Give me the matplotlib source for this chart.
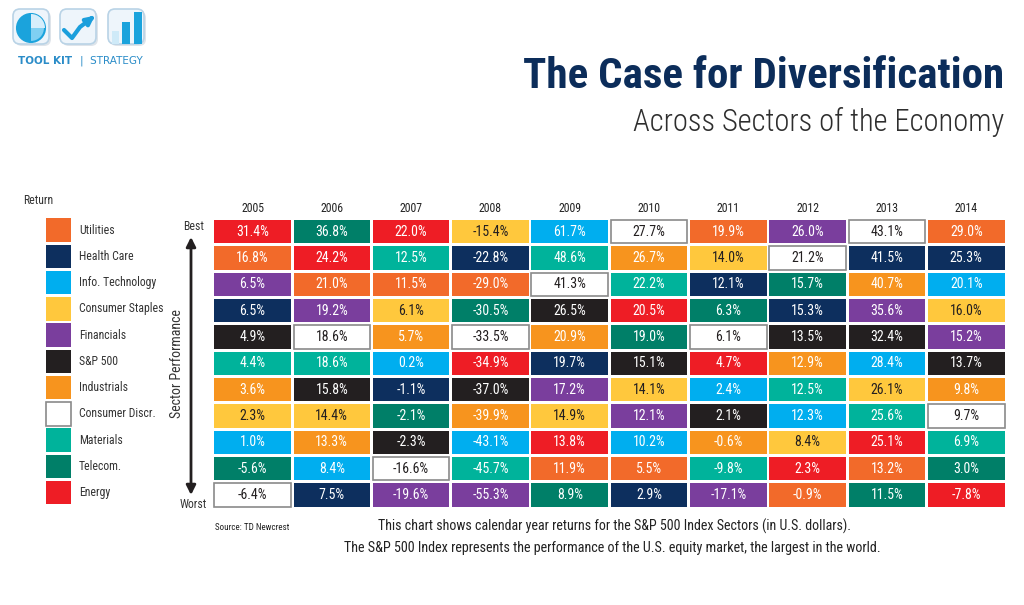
import matplotlib
matplotlib.use('Agg')
import matplotlib.pyplot as plt
from matplotlib.patches import Rectangle, FancyBboxPatch, Wedge, Circle

plt.rcParams['font.family'] = ['Roboto Condensed', 'Archivo Narrow', 'DejaVu Sans']

# sectors, legend order
sector_codes = ['U', 'HC', 'IT', 'CS', 'F', 'SP', 'I', 'CD', 'M', 'T', 'E']
sector_names = ['Utilities', 'Health Care', 'Info. Technology', 'Consumer Staples',
                'Financials', 'S&P 500', 'Industrials', 'Consumer Discr.',
                'Materials', 'Telecom.', 'Energy']
sector_colors = ['#f26a2a', '#0d2f5e', '#00aeef', '#ffc83d', '#7a3e9d', '#231f20',
                 '#f7941e', '#ffffff', '#00b39b', '#007f68', '#ee1d25']

years = [2005, 2006, 2007, 2008, 2009, 2010, 2011, 2012, 2013, 2014]

# ranking best -> worst for each year
rank_2005 = ['E', 'U', 'F', 'HC', 'SP', 'M', 'I', 'CS', 'IT', 'T', 'CD']
rank_2006 = ['T', 'E', 'U', 'F', 'CD', 'M', 'SP', 'CS', 'I', 'IT', 'HC']
rank_2007 = ['E', 'M', 'U', 'CS', 'I', 'IT', 'HC', 'T', 'SP', 'CD', 'F']
rank_2008 = ['CS', 'HC', 'U', 'T', 'CD', 'E', 'SP', 'I', 'IT', 'M', 'F']
rank_2009 = ['IT', 'M', 'CD', 'SP', 'I', 'HC', 'F', 'CS', 'E', 'U', 'T']
rank_2010 = ['CD', 'I', 'M', 'E', 'T', 'SP', 'CS', 'F', 'IT', 'U', 'HC']
rank_2011 = ['U', 'CS', 'HC', 'T', 'CD', 'E', 'IT', 'SP', 'I', 'M', 'F']
rank_2012 = ['F', 'CD', 'T', 'HC', 'SP', 'I', 'M', 'IT', 'CS', 'E', 'U']
rank_2013 = ['CD', 'HC', 'I', 'F', 'SP', 'IT', 'CS', 'M', 'E', 'U', 'T']
rank_2014 = ['U', 'HC', 'IT', 'CS', 'F', 'SP', 'I', 'CD', 'M', 'T', 'E']

ret_2005 = [31.4, 16.8, 6.5, 6.5, 4.9, 4.4, 3.6, 2.3, 1.0, -5.6, -6.4]
ret_2006 = [36.8, 24.2, 21.0, 19.2, 18.6, 18.6, 15.8, 14.4, 13.3, 8.4, 7.5]
ret_2007 = [22.0, 12.5, 11.5, 6.1, 5.7, 0.2, -1.1, -2.1, -2.3, -16.6, -19.6]
ret_2008 = [-15.4, -22.8, -29.0, -30.5, -33.5, -34.9, -37.0, -39.9, -43.1, -45.7, -55.3]
ret_2009 = [61.7, 48.6, 41.3, 26.5, 20.9, 19.7, 17.2, 14.9, 13.8, 11.9, 8.9]
ret_2010 = [27.7, 26.7, 22.2, 20.5, 19.0, 15.1, 14.1, 12.1, 10.2, 5.5, 2.9]
ret_2011 = [19.9, 14.0, 12.1, 6.3, 6.1, 4.7, 2.4, 2.1, -0.6, -9.8, -17.1]
ret_2012 = [26.0, 21.2, 15.7, 15.3, 13.5, 12.9, 12.5, 12.3, 8.4, 2.3, -0.9]
ret_2013 = [43.1, 41.5, 40.7, 35.6, 32.4, 28.4, 26.1, 25.6, 25.1, 13.2, 11.5]
ret_2014 = [29.0, 25.3, 20.1, 16.0, 15.2, 13.7, 9.8, 9.7, 6.9, 3.0, -7.8]

ranks = [rank_2005, rank_2006, rank_2007, rank_2008, rank_2009,
         rank_2010, rank_2011, rank_2012, rank_2013, rank_2014]
returns = [ret_2005, ret_2006, ret_2007, ret_2008, ret_2009,
           ret_2010, ret_2011, ret_2012, ret_2013, ret_2014]

color_of = dict(zip(sector_codes, sector_colors))
dark_text = {'CS', 'CD'}

W, H = 1024, 605
fig = plt.figure(figsize=(W / 100, H / 100), dpi=100)

# background axes in pixel coords for decorations
bg = fig.add_axes([0, 0, 1, 1])
bg.set_xlim(0, W)
bg.set_ylim(H, 0)
bg.axis('off')

# ---- logo ----
icon_x = [13, 60, 108]
for x0 in icon_x:
    bg.add_patch(FancyBboxPatch((x0 + 2, 11), 36, 35, boxstyle='round,pad=0,rounding_size=7',
                                fc='#c9d3dc', ec='none', alpha=0.6))
    bg.add_patch(FancyBboxPatch((x0, 9), 36, 35, boxstyle='round,pad=0,rounding_size=7',
                                fc='#eef5fb', ec='#b9d3e6', lw=1.2))
bg.add_patch(Circle((31, 28), 14, fc='#7fd0f2', ec='#1ba3dc', lw=1.5))
bg.add_patch(Wedge((31, 28), 14, 90, 360, fc='#1ba3dc', ec='none'))
bg.add_patch(Wedge((31, 28), 14, 270, 360, fc='#d6eefb', ec='none'))
bg.plot([64, 72, 80, 92], [30, 38, 27, 18], color='#1b9fdc', lw=3, solid_capstyle='round')
bg.annotate('', xy=(97, 14), xytext=(88, 21),
            arrowprops=dict(arrowstyle='-|>', color='#1b9fdc', lw=3, mutation_scale=12))
bg.add_patch(Rectangle((112, 31), 7, 13, fc='#cfeaf8', ec='none'))
bg.add_patch(Rectangle((122, 22), 8, 22, fc='#1ba3dc', ec='none'))
bg.add_patch(Rectangle((134, 12), 8, 32, fc='#1ba3dc', ec='none'))
bg.text(18, 61, 'TOOL KIT', fontsize=7.5, fontweight='bold', color='#2a8cc8',
        ha='left', va='center', family=['DejaVu Sans'])
bg.text(80, 61, '|  STRATEGY', fontsize=7.5, color='#2a8cc8', ha='left', va='center',
        family=['DejaVu Sans'])

# ---- titles ----
bg.text(1004, 76, 'The Case for Diversification', ha='right', va='center',
        fontsize=31, fontweight='bold', color='#0c2d5a')
bg.text(1004, 122, 'Across Sectors of the Economy', ha='right', va='center',
        fontsize=22, fontweight='light', color='#2e2e2e')

# ---- legend ----
bg.text(23, 200, 'Return', ha='left', va='center', fontsize=8.5, color='#333333')
leg_top, leg_pitch = 218.3, 26.27
for k, (name, col) in enumerate(zip(sector_names, sector_colors)):
    y = leg_top + k * leg_pitch
    edge = '#8a8a8a' if col == '#ffffff' else 'none'
    bg.add_patch(Rectangle((46, y), 25, 23.4, fc=col, ec=edge, lw=1.2))
    bg.text(79, y + 11.7, name, ha='left', va='center', fontsize=8.5, color='#333333')

# ---- best / worst arrow ----
bg.text(204, 227, 'Best', ha='right', va='center', fontsize=8.5, color='#333333')
bg.text(207, 505, 'Worst', ha='right', va='center', fontsize=8.5, color='#333333')
bg.annotate('', xy=(191, 237), xytext=(191, 495),
            arrowprops=dict(arrowstyle='<|-|>', color='#231f20', lw=2, mutation_scale=14,
                            shrinkA=0, shrinkB=0))
bg.text(177, 364, 'Sector Performance', rotation=90, ha='center', va='center',
        fontsize=10, color='#333333')

# ---- grid of cells ----
gx0, gtop, gw, gh = 212.9, 218.5, 793.0, 289.7
ax = fig.add_axes([gx0 / W, (H - gtop - gh) / H, gw / W, gh / H])
ax.set_xlim(0, len(years))
ax.set_ylim(len(sector_codes), 0)
ax.axis('off')
cw, ch = 0.965, 0.885
for i, yr in enumerate(years):
    ax.text(i + 0.5, -0.38, str(yr), ha='center', va='center', fontsize=8.5,
            color='#222222', clip_on=False)
    for j, (code, val) in enumerate(zip(ranks[i], returns[i])):
        col = color_of[code]
        edge = '#8a8a8a' if code == 'CD' else 'none'
        ax.add_patch(Rectangle((i + (1 - cw) / 2, j + (1 - ch) / 2), cw, ch,
                               fc=col, ec=edge, lw=1.2, clip_on=False))
        tc = '#231f20' if code in dark_text else '#ffffff'
        ax.text(i + 0.5, j + 0.5, f'{val:.1f}%', ha='center', va='center',
                fontsize=10, color=tc)

# ---- footer ----
bg.text(215, 527, 'Source: TD Newcrest', ha='left', va='center', fontsize=6.5, color='#222222')
bg.text(615, 526, 'This chart shows calendar year returns for the S&P 500 Index Sectors (in U.S. dollars).',
        ha='center', va='center', fontsize=10.1, color='#222222')
bg.text(612, 548, 'The S&P 500 Index represents the performance of the U.S. equity market, the largest in the world.',
        ha='center', va='center', fontsize=10.2, color='#222222')

fig.savefig('out.png', dpi=100)
